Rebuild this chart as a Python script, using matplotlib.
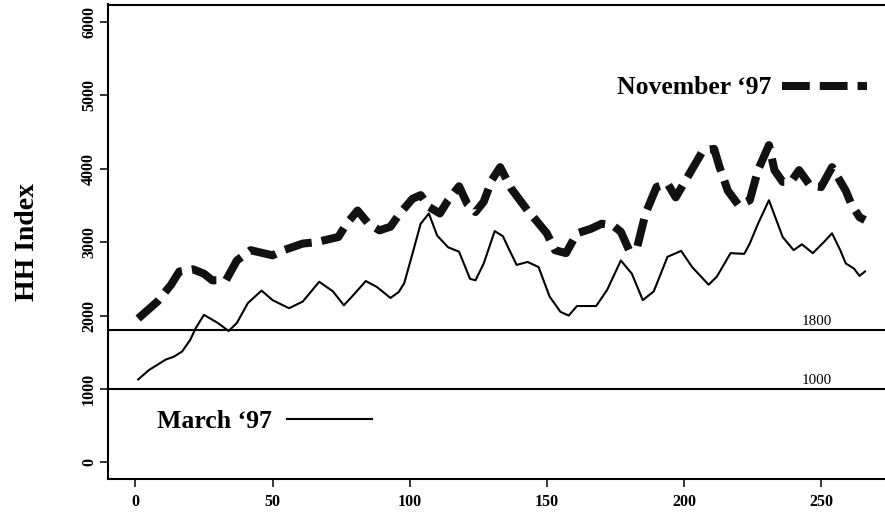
import numpy as np
import matplotlib
matplotlib.use('agg')
import matplotlib.pyplot as plt

plt.rcParams['font.family'] = 'serif'
plt.rcParams['font.serif'] = ['Liberation Serif', 'DejaVu Serif']
plt.rcParams['lines.scale_dashes'] = False

# values
march_x = [1, 5, 11, 14, 17, 20, 22, 25, 30, 34, 37, 41, 46, 50, 56, 61, 67, 72, 76, 79,
           84, 88, 93, 96, 98, 101, 104, 107, 110, 114, 118, 122, 124, 127, 131, 134, 136,
           139, 143, 147, 151, 155, 158, 161, 168, 172, 177, 181, 185, 189, 194, 199, 203,
           209, 212, 217, 222, 224, 227, 231, 236, 240, 243, 247, 251, 254, 257, 259, 262,
           264, 266]
march_y = [1130, 1260, 1400, 1440, 1510, 1670, 1830, 2010, 1900, 1790, 1900, 2170, 2340, 2210,
           2100, 2190, 2460, 2330, 2140, 2260, 2470, 2390, 2240, 2320, 2440, 2840, 3250, 3390,
           3090, 2930, 2870, 2500, 2480, 2710, 3150, 3080, 2920, 2690, 2730, 2660, 2260, 2050,
           2000, 2130, 2130, 2350, 2750, 2570, 2210, 2330, 2800, 2880, 2660, 2420, 2530, 2850,
           2840, 2980, 3250, 3570, 3070, 2890, 2970, 2850, 3000, 3120, 2890, 2710, 2640, 2540,
           2600]

nov_x = [1, 8, 13, 16, 21, 25, 28, 33, 37, 42, 50, 54, 61, 66, 74, 77, 81, 85, 89, 93, 96,
         101, 104, 107, 111, 114, 118, 121, 124, 127, 130, 133, 137, 143, 146, 150, 153, 157,
         161, 166, 170, 174, 177, 180, 183, 186, 190, 194, 197, 202, 207, 211, 213, 216, 220,
         224, 227, 231, 233, 236, 239, 242, 246, 250, 254, 259, 261, 264, 266]
nov_y = [1960, 2190, 2420, 2600, 2630, 2570, 2480, 2480, 2750, 2890, 2820, 2890, 2980, 3000,
         3070, 3250, 3430, 3250, 3160, 3210, 3370, 3590, 3640, 3480, 3390, 3570, 3760, 3520,
         3410, 3550, 3850, 4020, 3730, 3430, 3300, 3120, 2890, 2850, 3120, 3180, 3250, 3230,
         3140, 2890, 2940, 3390, 3750, 3800, 3610, 3930, 4250, 4270, 4020, 3700, 3500, 3570,
         3980, 4320, 3980, 3820, 3820, 3980, 3770, 3750, 4020, 3700, 3520, 3340, 3300]

ref_levels = [1800, 1000]
x_ticks = [0, 50, 100, 150, 200, 250]
y_ticks = [0, 1000, 2000, 3000, 4000, 5000, 6000]

fig = plt.figure(figsize=(8.85, 5.15), dpi=100)
ax = fig.add_axes([108/885, 36/515, 783/885, 474.5/515])

l_nov, = ax.plot(nov_x, nov_y, color='#111111', lw=5.8, linestyle=(0, (20, 7.2)),
                 solid_capstyle='butt', dash_capstyle='butt', dash_joinstyle='round')
l_mar, = ax.plot(march_x, march_y, color='black', lw=1.5)

for lev in ref_levels:
    ax.axhline(lev, color='black', lw=1.5)
    ax.annotate(str(lev), (248.4, lev), xytext=(0, 3.6), textcoords='offset points',
                ha='center', va='baseline', fontsize=10.8)

ax.set_xlim(-10, 275.5)
ax.set_ylim(-225, 6235)
ax.set_xticks(x_ticks)
ax.set_yticks(y_ticks)
ax.tick_params(direction='out', length=5.8, width=1.1, labelsize=11.5)
ax.tick_params(axis='x', pad=5)
ax.tick_params(axis='y', pad=2, labelrotation=90)
for lab in ax.get_yticklabels():
    lab.set_va('center')
for lab in ax.get_xticklabels() + ax.get_yticklabels():
    lab.set_fontweight('bold')
for s in ax.spines.values():
    s.set_linewidth(1.5)
ax.spines['right'].set_visible(False)

fs = 18.5
leg1 = ax.legend([l_nov], ["November \u201897"], loc='center right',
                 bbox_to_anchor=(867/885, 1 - 88/515), bbox_transform=fig.transFigure,
                 frameon=False, markerfirst=False, borderpad=0, borderaxespad=0,
                 handlelength=85/25.7, handletextpad=0.43,
                 prop={'size': fs, 'weight': 'bold'})
ax.add_artist(leg1)
ax.legend([l_mar], ["March \u201897"], loc='center right',
          bbox_to_anchor=(372/885, 1 - 421/515), bbox_transform=fig.transFigure,
          frameon=False, markerfirst=False, borderpad=0, borderaxespad=0,
          handlelength=85/25.7, handletextpad=0.58,
          prop={'size': fs, 'weight': 'bold'})

fig.text(27/885, 1 - 242/515, 'HH Index', rotation=90, ha='center', va='center',
         fontsize=20, fontweight='bold')

plt.savefig('out.png', dpi=100)
